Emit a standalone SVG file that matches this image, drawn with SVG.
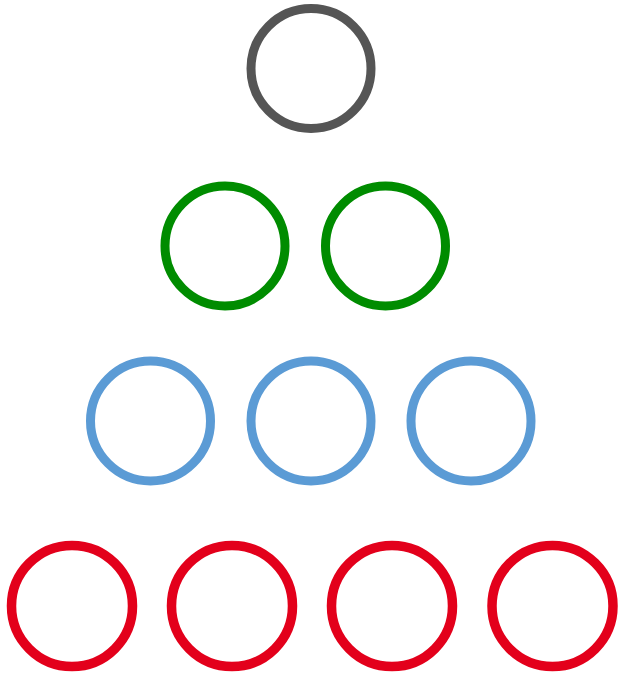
<svg xmlns="http://www.w3.org/2000/svg" width="619" height="675" viewBox="0 0 619 675">
<style>
circle{fill:none;stroke-width:9}
.g0{stroke:#555555}
.g1{stroke:#008C00}
.g2{stroke:#5B9BD5}
.g3{stroke:#E3001B;stroke-width:9.5}
</style>
<rect width="619" height="675" fill="#ffffff"/>
<g id="n1"><circle class="g0" cx="311" cy="68.5" r="60"/></g>
<g id="n2"><circle class="g1" cx="225" cy="246" r="60"/></g>
<g id="n3"><circle class="g1" cx="385.5" cy="246" r="60"/></g>
<g id="n4"><circle class="g2" cx="150.5" cy="421" r="60"/></g>
<g id="n5"><circle class="g2" cx="311" cy="421" r="60"/></g>
<g id="n6"><circle class="g2" cx="471" cy="421" r="60"/></g>
<g id="n7"><circle class="g3" cx="72" cy="606" r="60.5"/></g>
<g id="n8"><circle class="g3" cx="232" cy="606" r="60.5"/></g>
<g id="n9"><circle class="g3" cx="392" cy="606" r="60.5"/></g>
<g id="n10"><circle class="g3" cx="552.5" cy="606" r="60.5"/></g>
<g id="connectors"></g>
</svg>
